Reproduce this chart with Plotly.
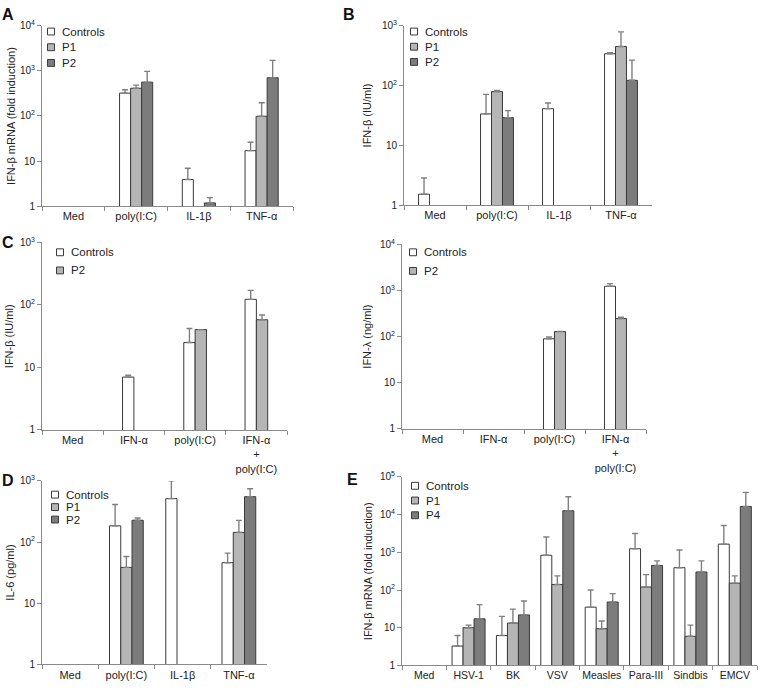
import plotly.graph_objects as go

FONT = "Liberation Sans, Arial, sans-serif"
W, H = 762, 690
TXT = "#222222"
AX = "#8a8a8a"

# ---------------- data ----------------
# Panel A: IFN-beta mRNA (fold induction)
a_cats = ["Med", "poly(I:C)", "IL-1β", "TNF-α"]
a_controls = [None, 320, 3.9, 17]
a_controls_top = [None, 380, 6.9, 26]
a_p1 = [None, 410, None, 98]
a_p1_top = [None, 480, None, 195]
a_p2 = [None, 560, 1.18, 700]
a_p2_top = [None, 970, 1.55, 1700]

# Panel B: IFN-beta (IU/ml)
b_cats = ["Med", "poly(I:C)", "IL-1β", "TNF-α"]
b_controls = [1.53, 33.5, 41, 339]
b_controls_top = [2.84, 71, 51, 352]
b_p1 = [None, 79, None, 448]
b_p1_top = [None, 83, None, 787]
b_p2 = [None, 29, None, 122]
b_p2_top = [None, 38, None, 265]

# Panel C (left): IFN-beta (IU/ml)
c_cats = ["Med", "IFN-α", "poly(I:C)", "IFN-α<br>+<br>poly(I:C)"]
c_controls = [None, 7.0, 25, 123]
c_controls_top = [None, 7.5, 42, 171]
c_p2 = [None, None, 40.3, 58]
c_p2_top = [None, None, None, 69]

# Panel C (right): IFN-lambda (ng/ml)
cr_cats = ["Med", "IFN-α", "poly(I:C)", "IFN-α<br>+<br>poly(I:C)"]
cr_controls = [None, None, 90, 1240]
cr_controls_top = [None, None, 98, 1410]
cr_p2 = [None, None, 129, 247]
cr_p2_top = [None, None, None, 264]

# Panel D: IL-6 (pg/ml)
d_cats = ["Med", "poly(I:C)", "IL-1β", "TNF-α"]
d_controls = [None, 184, 513, 46]
d_controls_top = [None, 411, 1000, 66]
d_p1 = [None, 38.5, None, 144]
d_p1_top = [None, 58, None, 226]
d_p2 = [None, 227, None, 552]
d_p2_top = [None, 248, None, 745]

# Panel E: IFN-beta mRNA (fold induction), viruses
e_cats = ["Med", "HSV-1", "BK", "VSV", "Measles", "Para-III", "Sindbis", "EMCV"]
e_controls = [None, 3.26, 6.2, 835, 35, 1246, 391, 1650]
e_controls_top = [None, 6.2, 20, 2560, 100, 3170, 1150, 5150]
e_p1 = [None, 10, 13.3, 140, 9.4, 120, 5.9, 152]
e_p1_top = [None, 11.7, 31, 237, 15, 256, 11.7, 237]
e_p4 = [None, 17.2, 21.8, 12700, 48, 449, 301, 16500]
e_p4_top = [None, 41, 51, 30000, 80, 594, 594, 39000]

# ---------------- styles ----------------
WHITE = "#ffffff"
LIGHT = "#b5b5b5"
DARK = "#7c7c7c"

panels = [
    dict(letter="A", dom=(42, 293, 19, 203), cats=a_cats, decades=4, bw=0.176,
         ytitle="IFN-β mRNA (fold induction)", ytx=11, xfs=11,
         series=[("Controls", a_controls, a_controls_top, WHITE),
                 ("P1", a_p1, a_p1_top, LIGHT),
                 ("P2", a_p2, a_p2_top, DARK)],
         leg=(51, 25, 16), lx=(8, 8)),
    dict(letter="B", dom=(404, 652, 19, 202), cats=b_cats, decades=3, bw=0.177,
         ytitle="IFN-β (IU/ml)", ytx=367, xfs=11,
         series=[("Controls", b_controls, b_controls_top, WHITE),
                 ("P1", b_p1, b_p1_top, LIGHT),
                 ("P2", b_p2, b_p2_top, DARK)],
         leg=(414, 25, 15.5), lx=(349, 8)),
    dict(letter="C", dom=(42, 287, 240, 431), cats=c_cats, decades=3, bw=0.185,
         ytitle="IFN-β (IU/ml)", ytx=9, xfs=11,
         series=[("Controls", c_controls, c_controls_top, WHITE),
                 ("P2", c_p2, c_p2_top, LIGHT)],
         leg=(60, 250, 18.5), lx=(8, 240)),
    dict(letter="", dom=(402, 646, 242, 430), cats=cr_cats, decades=4, bw=0.18,
         ytitle="IFN-λ (ng/ml)", ytx=367, xfs=11,
         series=[("Controls", cr_controls, cr_controls_top, WHITE),
                 ("P2", cr_p2, cr_p2_top, LIGHT)],
         leg=(413, 250, 19), lx=None),
    dict(letter="D", dom=(42, 267, 483, 670), cats=d_cats, decades=3, bw=0.2,
         ytitle="IL-6 (pg/ml)", ytx=10, xfs=11,
         series=[("Controls", d_controls, d_controls_top, WHITE),
                 ("P1", d_p1, d_p1_top, LIGHT),
                 ("P2", d_p2, d_p2_top, DARK)],
         leg=(55, 497, 12.7), lx=(8, 483)),
    dict(letter="E", dom=(402, 757, 479, 671), cats=e_cats, decades=5, bw=0.248,
         ytitle="IFN-β mRNA (fold induction)", ytx=368, xfs=10.5,
         series=[("Controls", e_controls, e_controls_top, WHITE),
                 ("P1", e_p1, e_p1_top, LIGHT),
                 ("P4", e_p4, e_p4_top, DARK)],
         leg=(415, 488, 15), lx=(352, 482)),
]


def px_x(x):
    return x / W


def px_y(y):
    return 1 - y / H


def dec_label(k):
    if k == 0:
        return "1"
    if k == 1:
        return "10"
    return "10<sup>%d</sup>" % k


fig = go.Figure()
shapes = []
annotations = []

for i, p in enumerate(panels):
    n = i + 1
    xa = "x" if n == 1 else "x%d" % n
    ya = "y" if n == 1 else "y%d" % n
    xkey = "xaxis" if n == 1 else "xaxis%d" % n
    ykey = "yaxis" if n == 1 else "yaxis%d" % n
    x0, x1, y0, y1 = p["dom"]
    ns = len(p["series"])
    bw = p["bw"]
    for j, (name, vals, tops, col) in enumerate(p["series"]):
        plus = [None if (v is None or t is None) else t - v for v, t in zip(vals, tops)]
        minus = [0 for _ in vals]
        fig.add_trace(go.Bar(
            x=p["cats"], y=vals, name=name, xaxis=xa, yaxis=ya,
            width=bw, offset=-ns * bw / 2 + j * bw,
            marker=dict(color=col, line=dict(color="#3a3a3a", width=1)),
            error_y=dict(type="data", symmetric=False, array=plus, arrayminus=minus,
                         color="#808080", thickness=1.4, width=3),
            showlegend=False,
        ))
        # legend swatch + label
        lx, ly, dy = p["leg"]
        yy = ly + j * dy
        shapes.append(dict(type="rect", xref="paper", yref="paper",
                           x0=px_x(lx - 3.5), x1=px_x(lx + 3.5),
                           y0=px_y(yy + 3.5), y1=px_y(yy - 3.5),
                           fillcolor=col, line=dict(color="#3a3a3a", width=1)))
        annotations.append(dict(xref="paper", yref="paper", x=px_x(lx + 9), y=px_y(yy),
                                xanchor="left", yanchor="middle", showarrow=False,
                                text=name, font=dict(family=FONT, size=11.5, color=TXT)))

    fig.update_layout(**{
        xkey: dict(domain=[px_x(x0), px_x(x1)], anchor=ya, type="category",
                   range=[-0.5, len(p["cats"]) - 0.5],
                   showline=True, linecolor=AX, linewidth=1,
                   ticks="outside", tickson="boundaries", ticklen=4, tickcolor=AX,
                   tickangle=0,
                   showgrid=False, zeroline=False, fixedrange=True,
                   tickfont=dict(family=FONT, size=p["xfs"], color=TXT)),
        ykey: dict(domain=[px_y(y1), px_y(y0)], anchor=xa, type="log",
                   range=[0, p["decades"]],
                   tickvals=[10 ** k for k in range(p["decades"] + 1)],
                   ticktext=[dec_label(k) for k in range(p["decades"] + 1)],
                   showline=True, linecolor=AX, linewidth=1,
                   ticks="outside", ticklen=4, tickcolor=AX,
                   showgrid=False, zeroline=False,
                   tickfont=dict(family=FONT, size=10, color=TXT)),
    })
    annotations.append(dict(xref="paper", yref="paper", x=px_x(p["ytx"]),
                            y=px_y((y0 + y1) / 2), textangle=-90, showarrow=False,
                            xanchor="center", yanchor="middle", text=p["ytitle"],
                            font=dict(family=FONT, size=11, color=TXT)))
    if p["letter"]:
        lx, ly = p["lx"]
        annotations.append(dict(xref="paper", yref="paper", x=px_x(lx), y=px_y(ly),
                                xanchor="center", yanchor="middle", showarrow=False,
                                text="<b>%s</b>" % p["letter"],
                                font=dict(family=FONT, size=16, color="#111111")))

fig.update_layout(
    width=W, height=H, margin=dict(l=0, r=0, t=0, b=0),
    paper_bgcolor="white", plot_bgcolor="white",
    barmode="overlay", showlegend=False,
    shapes=shapes, annotations=annotations,
    font=dict(family=FONT, color=TXT),
)

fig.write_html(
    "out.html",
    config={"displayModeBar": False},
    post_script="document.body.style.margin='0';document.body.style.overflow='hidden';",
)
